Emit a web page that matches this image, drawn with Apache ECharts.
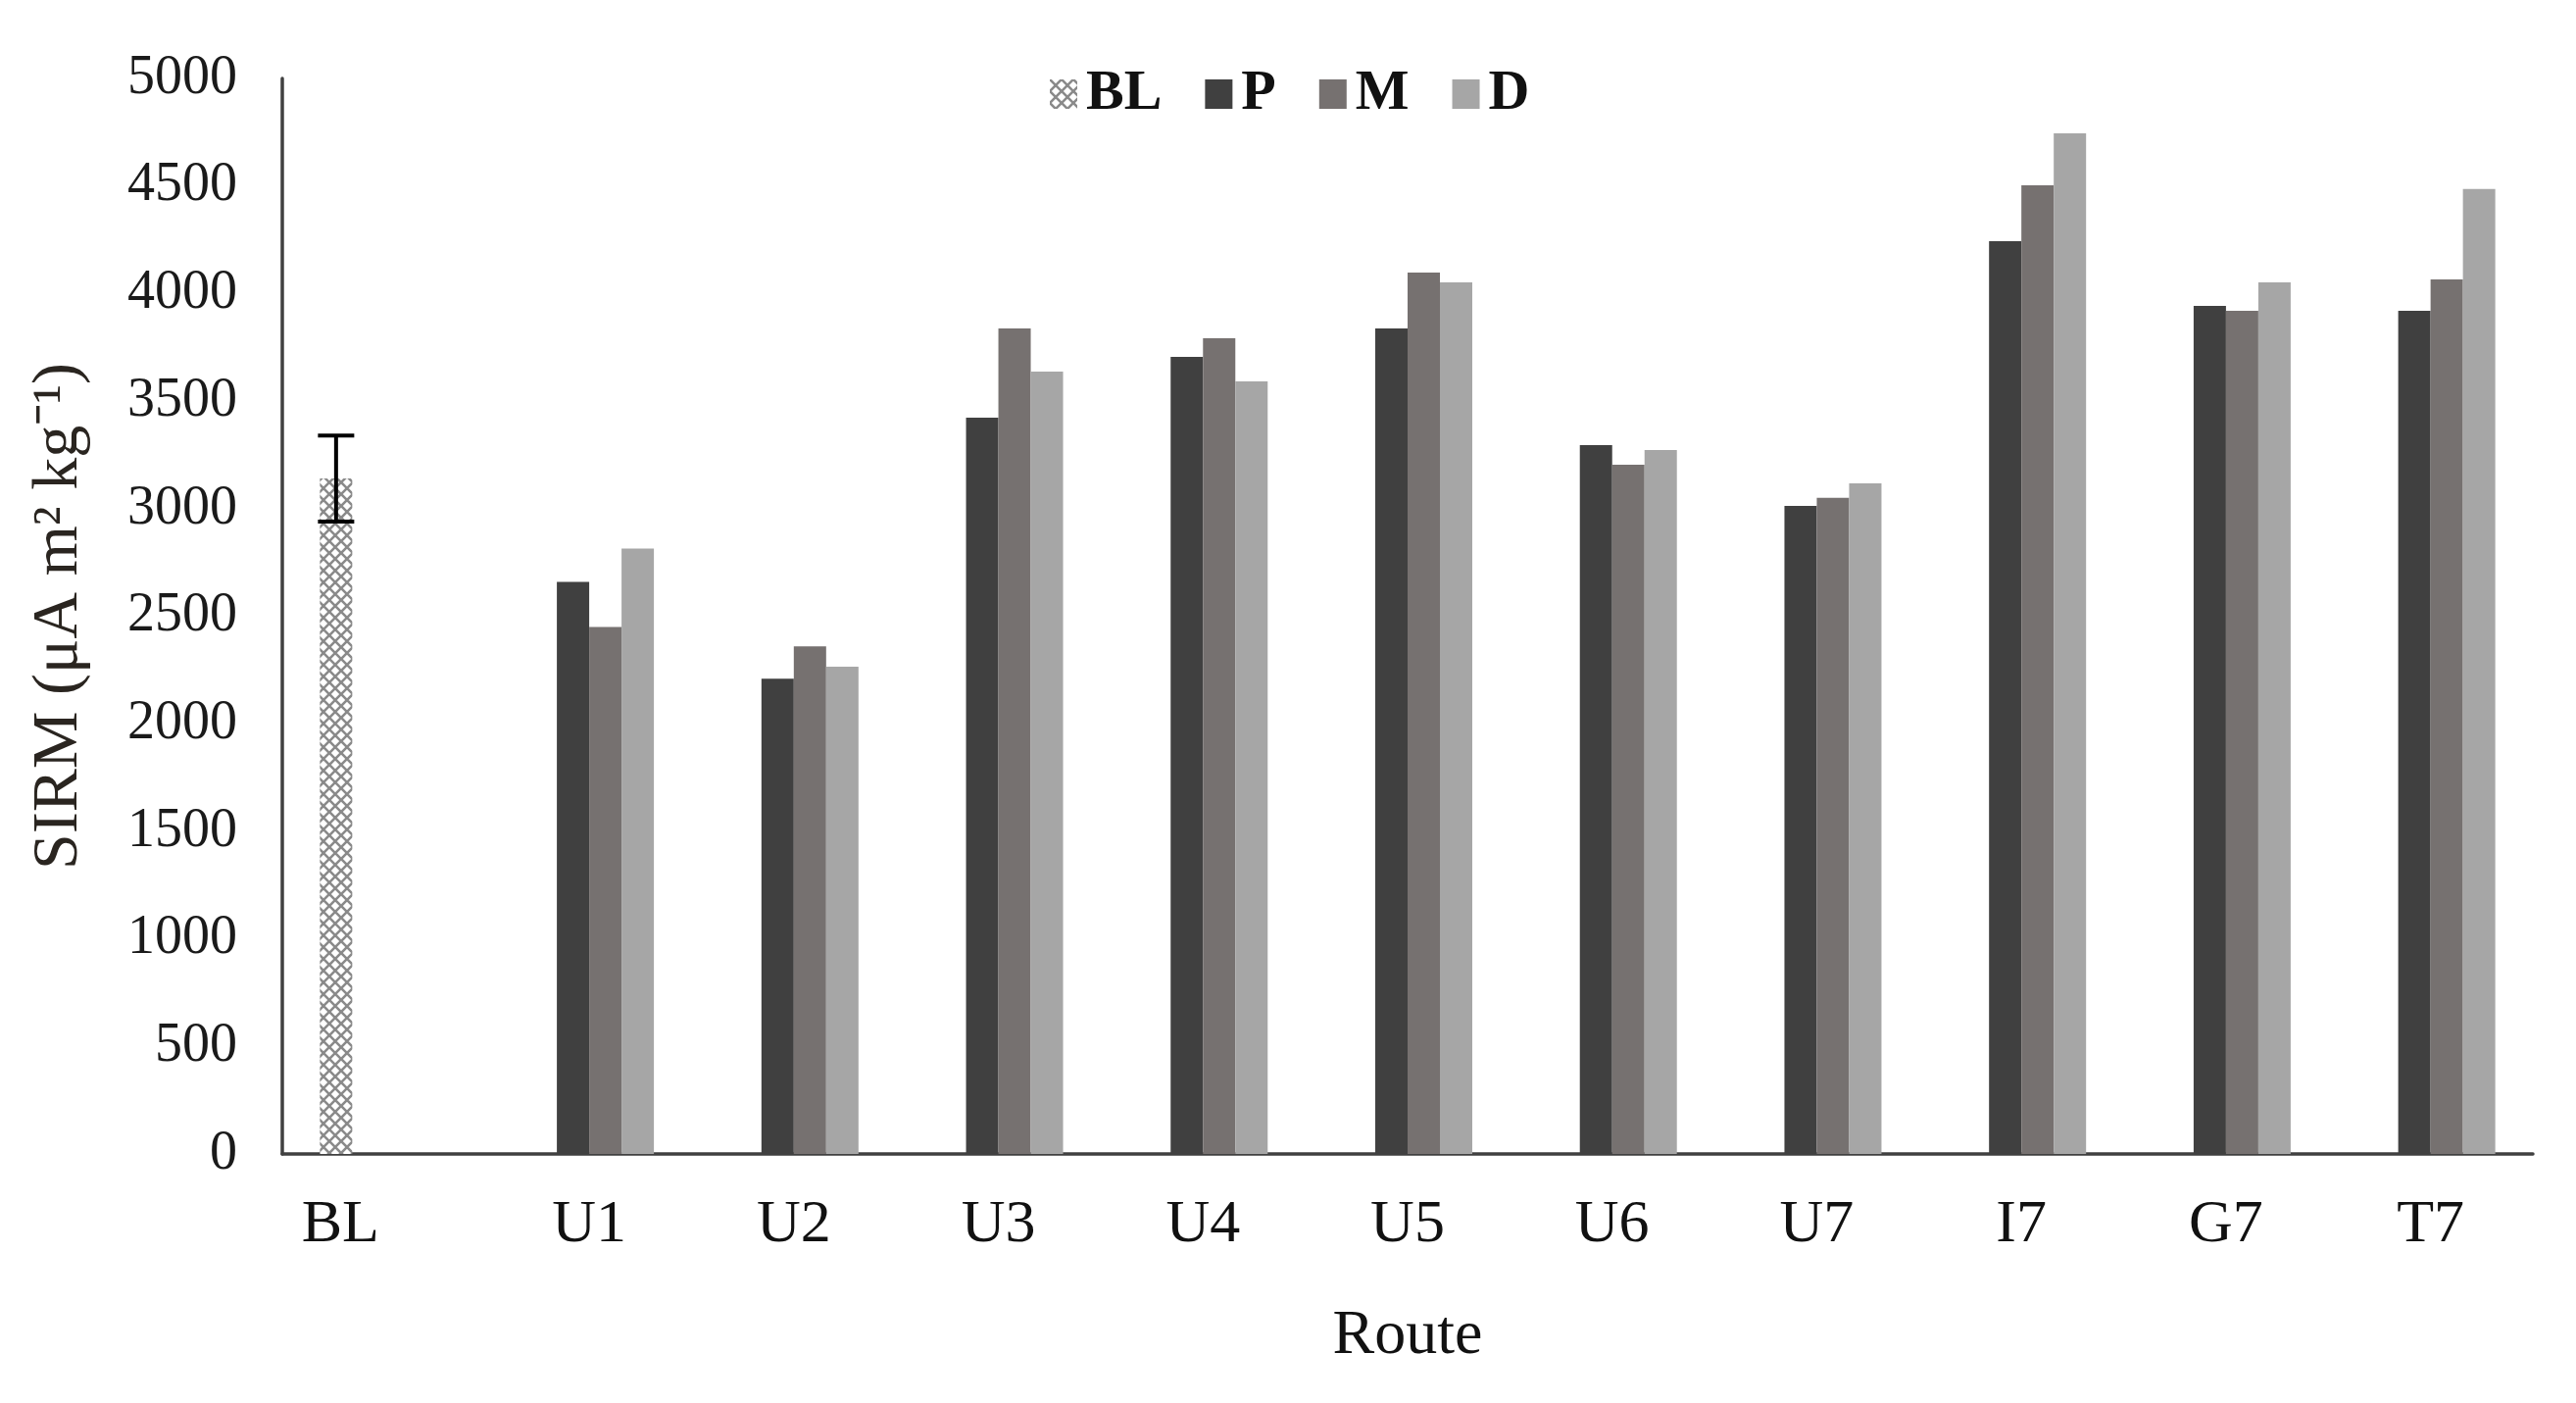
<!DOCTYPE html>
<html>
<head>
<meta charset="utf-8">
<script src="https://cdn.jsdelivr.net/npm/echarts@6/dist/echarts.min.js"></script>
<style>
html,body{margin:0;padding:0;background:#ffffff;}
#chart{width:2628px;height:1431px;}
</style>
</head>
<body>
<div id="chart"></div>
<script>
// ---- data ----
const categories = ['BL', 'U1', 'U2', 'U3', 'U4', 'U5', 'U6', 'U7', 'I7', 'G7', 'T7'];
const seriesNames = ['BL', 'P', 'M', 'D'];
const blValues = [3140, null, null, null, null, null, null, null, null, null, null];
const blErrors = [200];
const pValues = [null, 2660, 2210, 3423, 3706, 3838, 3295, 3013, 4243, 3943, 3920];
const mValues = [null, 2450, 2360, 3838, 3792, 4097, 3204, 3050, 4503, 3920, 4066];
const dValues = [null, 2815, 2265, 3637, 3592, 4052, 3272, 3118, 4745, 4052, 4486];
const yTicks = { min: 0, max: 5000, interval: 500 };

// ---- styles ----
const BAR_W = 33;
const FONT = '"Liberation Serif", "Times New Roman", serif';

function hatchPattern() {
  const s = 12;
  const c = document.createElement('canvas');
  c.width = s; c.height = s;
  const g = c.getContext('2d');
  g.fillStyle = '#ffffff';
  g.fillRect(0, 0, s, s);
  g.strokeStyle = '#8a8a8a';
  g.lineWidth = 2.6;
  g.beginPath();
  g.moveTo(-1, -1); g.lineTo(s + 1, s + 1);
  g.moveTo(s + 1, -1); g.lineTo(-1, s + 1);
  g.stroke();
  return c;
}

const chart = echarts.init(document.getElementById('chart'), null, { renderer: 'canvas' });

const option = {
  backgroundColor: '#ffffff',
  animation: false,
  grid: { left: 288, right: 44, top: 80, bottom: 254, containLabel: false },
  legend: {
    data: seriesNames,
    left: 1066,
    top: 62,
    itemWidth: 28,
    itemHeight: 30,
    itemGap: 44,
    icon: 'rect',
    textStyle: { fontFamily: FONT, fontWeight: 'bold', fontSize: 58, color: '#111111', padding: [0, 0, 0, 4] }
  },
  xAxis: {
    type: 'category',
    data: categories,
    boundaryGap: true,
    axisLine: { show: true, lineStyle: { color: '#404040', width: 3.5 } },
    axisTick: { show: false },
    splitLine: { show: false },
    axisLabel: {
      interval: 0,
      margin: 42,
      fontFamily: FONT,
      fontSize: 62,
      color: '#111111',
      formatter: function (v) { return v === 'BL' ? '{bl|BL}' : v; },
      rich: { bl: { fontFamily: FONT, fontSize: 62, color: '#111111', padding: [0, 90, 0, 0] } }
    },
    name: 'Route',
    nameLocation: 'middle',
    nameGap: 154,
    nameTextStyle: { fontFamily: FONT, fontSize: 64, color: '#111111' }
  },
  yAxis: {
    type: 'value',
    min: yTicks.min,
    max: yTicks.max,
    interval: yTicks.interval,
    axisLine: { show: true, lineStyle: { color: '#404040', width: 3.5 } },
    axisTick: { show: false },
    splitLine: { show: false },
    axisLabel: {
      margin: 46, fontFamily: FONT, fontSize: 56, color: '#1a1a1a',
      formatter: function (v) { return String(v); }
    },
    name: 'SIRM (μA m² kg⁻¹)',
    nameLocation: 'middle',
    nameRotate: 90,
    nameGap: 194,
    nameTextStyle: { fontFamily: FONT, fontSize: 66, color: '#2a2520' }
  },
  series: [
    {
      name: 'BL', type: 'bar', data: blValues, barWidth: BAR_W, barGap: '0%',
      itemStyle: { color: { image: hatchPattern(), repeat: 'repeat' } }
    },
    { name: 'P', type: 'bar', data: pValues, barWidth: BAR_W, barGap: '0%', itemStyle: { color: '#404040' } },
    { name: 'M', type: 'bar', data: mValues, barWidth: BAR_W, barGap: '0%', itemStyle: { color: '#767170' } },
    { name: 'D', type: 'bar', data: dValues, barWidth: BAR_W, barGap: '0%', itemStyle: { color: '#a6a6a6' } },
    {
      name: 'BL error',
      type: 'custom',
      data: blErrors.map(function (e, i) { return [i, blValues[i], e]; }),
      z: 10,
      renderItem: function (params, api) {
        const idx = api.value(0), v = api.value(1), e = api.value(2);
        const top = api.coord([idx, v + e]);
        const bot = api.coord([idx, v - e]);
        const nBars = seriesNames.length;
        const slotOffset = -((nBars - 1) / 2) * BAR_W; // BL is the first bar slot
        const cx = top[0] + slotOffset;
        const half = BAR_W / 2 + 2;
        const st = { stroke: '#000000', lineWidth: 4 };
        return {
          type: 'group',
          children: [
            { type: 'line', shape: { x1: cx, y1: top[1], x2: cx, y2: bot[1] }, style: st },
            { type: 'line', shape: { x1: cx - half, y1: top[1], x2: cx + half, y2: top[1] }, style: st },
            { type: 'line', shape: { x1: cx - half, y1: bot[1], x2: cx + half, y2: bot[1] }, style: st }
          ]
        };
      }
    }
  ]
};
chart.setOption(option);
</script>
</body>
</html>
